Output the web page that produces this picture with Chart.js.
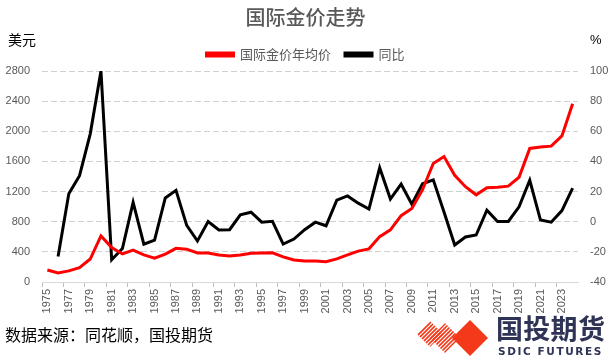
<!DOCTYPE html>
<html>
<head>
<meta charset="utf-8">
<script src="https://cdn.jsdelivr.net/npm/chart.js@4.4.1/dist/chart.umd.min.js"></script>
<style>
  html, body { margin: 0; padding: 0; background: #fff; }
  #wrap { position: relative; width: 611px; height: 360px; overflow: hidden; font-family: "Noto Sans CJK SC", "Liberation Sans", sans-serif; }
  #c { position: absolute; left: 0; top: 0; }
  .abs { position: absolute; white-space: nowrap; }
</style>
</head>
<body>
<div id="wrap">
  <canvas id="c" width="611" height="360"></canvas>
  <div class="abs" style="left:8px;top:29px;font-size:14px;color:#000;">美元</div>
  <div class="abs" style="left:590px;top:32px;font-size:13px;color:#000;font-family:'Liberation Sans',sans-serif;">%</div>
  <div class="abs" style="left:5px;top:322px;font-size:16px;color:#000;">数据来源：同花顺，国投期货</div>
  <svg class="abs" style="left:415px;top:312px;" width="80" height="46" viewBox="0 0 80 46">
    <defs>
      <clipPath id="cp1"><polygon points="15,9 28,22 15,35 2,22"/></clipPath>
      <clipPath id="cp2"><polygon points="30,11 45,26 30,41 15,26"/></clipPath>
      <g id="stripes" stroke="#f4391a" stroke-width="1.6">
        <line x1="-40" y1="46" x2="6" y2="0"/>
        <line x1="-36" y1="46" x2="10" y2="0"/>
        <line x1="-32" y1="46" x2="14" y2="0"/>
        <line x1="-28" y1="46" x2="18" y2="0"/>
        <line x1="-24" y1="46" x2="22" y2="0"/>
        <line x1="-20" y1="46" x2="26" y2="0"/>
        <line x1="-16" y1="46" x2="30" y2="0"/>
        <line x1="-12" y1="46" x2="34" y2="0"/>
        <line x1="-8" y1="46" x2="38" y2="0"/>
        <line x1="-4" y1="46" x2="42" y2="0"/>
        <line x1="0" y1="46" x2="46" y2="0"/>
        <line x1="4" y1="46" x2="50" y2="0"/>
        <line x1="8" y1="46" x2="54" y2="0"/>
        <line x1="12" y1="46" x2="58" y2="0"/>
        <line x1="16" y1="46" x2="62" y2="0"/>
        <line x1="20" y1="46" x2="66" y2="0"/>
        <line x1="24" y1="46" x2="70" y2="0"/>
        <line x1="28" y1="46" x2="74" y2="0"/>
      </g>
    </defs>
    <use href="#stripes" clip-path="url(#cp1)"/>
    <use href="#stripes" clip-path="url(#cp2)"/>
    <polygon points="55,8 73,26 55,44 37,26" fill="#f4391a"/>
  </svg>
  <div class="abs" style="left:496px;top:312px;font-size:27px;font-weight:bold;color:#2f3355;letter-spacing:0.3px;line-height:32px;">国投期货</div>
  <div class="abs" style="left:498px;top:345px;font-size:10.5px;font-weight:bold;color:#2f3355;letter-spacing:1.6px;line-height:12px;font-family:'DejaVu Sans','Liberation Sans',sans-serif;">SDIC FUTURES</div>
</div>
<script>
const years = ["1975","1976","1977","1978","1979","1980","1981","1982","1983","1984","1985","1986","1987","1988","1989","1990","1991","1992","1993","1994","1995","1996","1997","1998","1999","2000","2001","2002","2003","2004","2005","2006","2007","2008","2009","2010","2011","2012","2013","2014","2015","2016","2017","2018","2019","2020","2021","2022","2023","2024"];
const goldAvg = [160, 120, 148, 190, 305, 612, 458, 372, 424, 360, 316, 370, 447, 436, 386, 386, 358, 344, 358, 382, 384, 388, 334, 293, 279, 279, 268, 306, 360, 410, 440, 602, 692, 880, 975, 1225, 1572, 1665, 1416, 1265, 1157, 1252, 1257, 1272, 1390, 1772, 1790, 1803, 1938, 2365];
const yoy = [null, -23, 18.5, 30.5, 58.3, 100, -25.2, -17.8, 12.8, -14.9, -12.2, 15.8, 20.8, -2.4, -12.8, 0.1, -5.5, -5.3, 4.6, 6.3, -0.3, 0.3, -14.8, -11.5, -5.3, -0.3, -2.7, 14.3, 17.1, 12.3, 8.4, 35.8, 15, 25, 11.6, 25.2, 27.8, 6.5, -15.4, -10.1, -8.8, 7.7, 0.1, 0.2, 9.9, 27.5, 1.1, -0.3, 7.4, 22.3];
const leftTicks = { min: 0, max: 2800, step: 400 };
const rightTicks = { min: -40, max: 100, step: 20 };
const seriesNames = ["国际金价年均价", "同比"];

const tickFont = { family: "'Liberation Sans', sans-serif", size: 11 };
const tickColor = "#595959";

new Chart(document.getElementById('c'), {
  type: 'line',
  data: {
    labels: years,
    datasets: [
      { label: seriesNames[0], data: goldAvg, yAxisID: 'y', borderColor: '#ff0000', backgroundColor: '#ff0000', borderWidth: 3, pointRadius: 0, tension: 0 },
      { label: seriesNames[1], data: yoy, yAxisID: 'y1', borderColor: '#000000', backgroundColor: '#000000', borderWidth: 3, pointRadius: 0, tension: 0, spanGaps: false }
    ]
  },
  options: {
    responsive: false,
    animation: false,
    devicePixelRatio: 1,
    layout: { padding: { top: 0, left: 0, right: 0, bottom: 0 } },
    plugins: {
      tooltip: { enabled: false },
      title: {
        display: true,
        text: '国际金价走势',
        color: '#595959',
        font: { family: "'Noto Sans CJK SC', sans-serif", size: 20, weight: '500' },
        padding: { top: 5, bottom: 5 }
      },
      legend: {
        display: true,
        position: 'top',
        labels: {
          boxWidth: 27,
          boxHeight: 3,
          padding: 14,
          color: '#595959',
          font: { family: "'Noto Sans CJK SC', sans-serif", size: 13 }
        }
      }
    },
    scales: {
      x: {
        offset: true,
        grid: {
          offset: true,
          drawOnChartArea: false,
          drawTicks: true,
          tickLength: 5,
          color: (ctx) => (ctx.index % 2 === 0 ? '#bfbfbf' : 'rgba(0,0,0,0)')
        },
        border: { display: true, color: '#d9d9d9', width: 1 },
        ticks: {
          autoSkip: false,
          maxRotation: 90,
          minRotation: 90,
          padding: 2,
          color: tickColor,
          font: tickFont,
          callback: function (v, i) { return i % 2 === 0 ? years[i] : ''; }
        },
        afterFit: (s) => { s.height = 78; }
      },
      y: {
        position: 'left',
        min: leftTicks.min,
        max: leftTicks.max,
        ticks: { stepSize: leftTicks.step, color: tickColor, font: tickFont, padding: 12, callback: (v) => String(v) },
        grid: {
          drawTicks: false,
          color: (ctx) => (ctx.tick && ctx.tick.value === 0 ? 'rgba(0,0,0,0)' : '#d0d0d0'),
          lineWidth: 1
        },
        border: { display: false, dash: [6, 3] },
        afterFit: (s) => { s.width = 42; }
      },
      y1: {
        position: 'right',
        min: rightTicks.min,
        max: rightTicks.max,
        ticks: { stepSize: rightTicks.step, color: tickColor, font: tickFont, padding: 12, callback: (v) => String(v) },
        grid: { display: false, drawOnChartArea: false, drawTicks: false },
        border: { display: false },
        afterFit: (s) => { s.width = 33; }
      }
    }
  }
});
</script>
</body>
</html>
